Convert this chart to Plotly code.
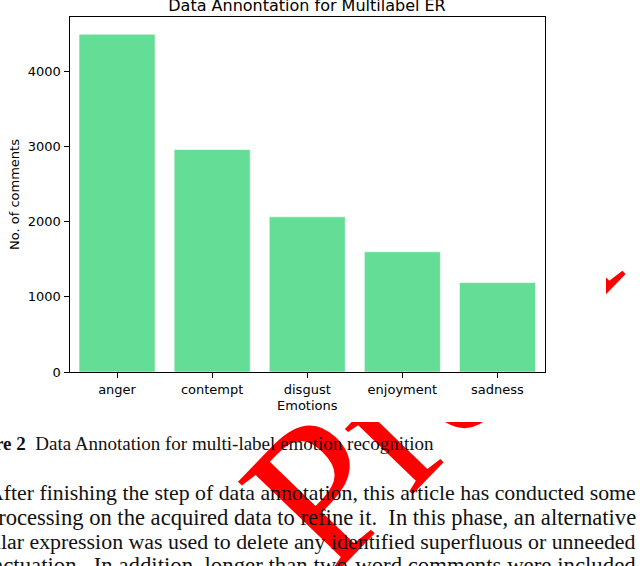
import plotly.graph_objects as go

W, H = 640, 566

# chart data
emotions = ["anger", "contempt", "disgust", "enjoyment", "sadness"]
counts = [4495, 2960, 2065, 1600, 1190]
y_ticks = [0, 1000, 2000, 3000, 4000]

chart_title = "Data Annontation for Multilabel ER"
x_label = "Emotions"
y_label = "No. of comments"

# page text around the figure
caption = "<b>Figure 2</b>  Data Annotation for multi-label emotion recognition"
body_lines = [
    "After finishing the step of data annotation, this article has conducted some",
    "preprocessing on the acquired data to refine it.  In this phase, an alternative",
    "regular expression was used to delete any identified superfluous or unneeded",
    "punctuation.  In addition, longer than two-word comments were included",
]
body_y = [493, 517, 541, 565]
body_size = [21.8, 22.6, 21.9, 22.8]
watermark = "Preprint"

BAR = "#64dd96"
SERIF = "Liberation Serif, Times New Roman, serif"
SANS = "DejaVu Sans, sans-serif"
WM_TOP = 259  # watermark only shows below this page row


def px_x(x):
    return x / W


def px_y(y):
    return 1 - y / H


fig = go.Figure()

# 1) watermark, bottom layer (pixel-space axes, clipped to the lower page)
fig.add_trace(go.Bar(
    x=[510], y=[10], base=[288.4], width=[10],
    text=[watermark], textposition="inside", insidetextanchor="middle",
    textangle=-46, constraintext="none", cliponaxis=True,
    textfont=dict(family=SERIF, size=205, color="#ff0000"),
    marker=dict(color="rgba(0,0,0,0)", line=dict(width=0)),
    hoverinfo="skip", showlegend=False, xaxis="x", yaxis="y",
))

# 2) white cover for the embedded figure image
fig.add_trace(go.Bar(
    x=[0.5], y=[1], width=[1],
    marker=dict(color="#ffffff", line=dict(width=0)),
    hoverinfo="skip", showlegend=False, xaxis="x2", yaxis="y2",
))

# 3) the actual bar chart
fig.add_trace(go.Bar(
    x=emotions, y=counts, width=0.8,
    marker=dict(color=BAR, line=dict(color="rgba(255,255,255,0.6)", width=1)),
    showlegend=False, xaxis="x3", yaxis="y3",
))

hidden = dict(visible=False, fixedrange=True, automargin=False)
tick_font = dict(family=SANS, size=13, color="#000000")
fig.update_layout(
    template="none",
    width=W, height=H,
    margin=dict(l=0, r=0, t=0, b=0, pad=0),
    paper_bgcolor="#ffffff", plot_bgcolor="rgba(0,0,0,0)",
    xaxis=dict(domain=[0, 1], range=[0, W], **hidden),
    yaxis=dict(domain=[0, px_y(WM_TOP)], range=[H, WM_TOP], **hidden),
    xaxis2=dict(domain=[0, px_x(606)], range=[0, 1], anchor="y2", **hidden),
    yaxis2=dict(domain=[px_y(422), 1], range=[0, 1], anchor="x2", **hidden),
    xaxis3=dict(
        domain=[px_x(69.5), px_x(545)], anchor="y3", automargin=False,
        type="category", range=[-0.5, 4.5],
        showline=True, mirror=True, linecolor="#000000", linewidth=1,
        ticks="outside", ticklen=5, tickcolor="#000000", tickfont=tick_font,
        showgrid=False, zeroline=False,
    ),
    yaxis3=dict(
        domain=[px_y(372), px_y(17.3)], anchor="x3", automargin=False,
        range=[0, max(counts) * 1.05],
        tickvals=y_ticks,
        showline=True, mirror=True, linecolor="#000000", linewidth=1,
        ticks="outside", ticklen=5, tickcolor="#000000", tickfont=tick_font,
        showgrid=False, zeroline=False,
    ),
    title=dict(
        text=chart_title, x=px_x(307), xanchor="center",
        y=px_y(5), yanchor="middle",
        font=dict(family=SANS, size=16, color="#000000"),
    ),
    showlegend=False,
)

anns = [
    dict(x=px_x(14), y=px_y(195), text=y_label, textangle=-90,
         font=dict(family=SANS, size=13, color="#000000")),
    dict(x=px_x(307), y=px_y(405), text=x_label,
         font=dict(family=SANS, size=13, color="#000000")),
    dict(x=px_x(436), y=px_y(443), text=caption, xanchor="right",
         font=dict(family=SERIF, size=19, color="#111111")),
]
for line, yy, sz in zip(body_lines, body_y, body_size):
    anns.append(dict(x=px_x(638), y=px_y(yy), text=line, xanchor="right",
                     font=dict(family=SERIF, size=sz, color="#111111")))
for a in anns:
    a.update(xref="paper", yref="paper", showarrow=False,
             xanchor=a.get("xanchor", "center"), yanchor="middle")
fig.update_layout(annotations=anns)

fig.write_html("out.html", config={"displayModeBar": False},
               post_script="document.body.style.margin='0';")
